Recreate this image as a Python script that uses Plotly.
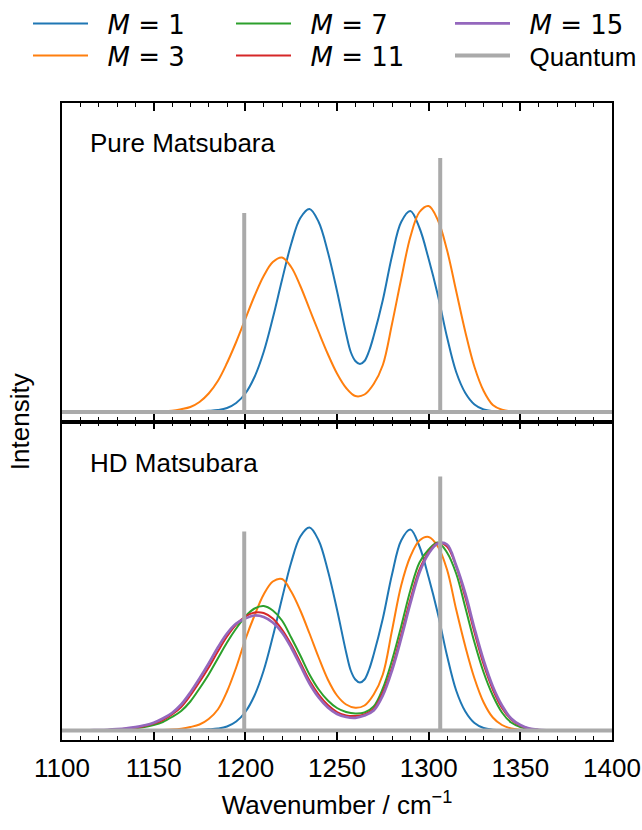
import plotly.graph_objects as go

# ---------------- data ----------------
WAVENUMBER = list(range(1100, 1405, 5))  # sample grid, cm^-1

# M = 1 is sampled a little more densely around its sharp valley
M1_X = (list(range(1100, 1255, 5))
        + [1255, 1257.5, 1260, 1262.5, 1265, 1267.5]
        + list(range(1270, 1405, 5)))
M1 = [0, 0, 0, 0, 0, 0, 0, 0, 0, 0,
      0, 0, 0.1, 0.2, 0.4, 0.7, 1.2, 2, 4, 9,
      18.5, 35, 60, 94, 132, 168, 194, 203, 190, 160,
      121,
      78, 60, 51, 48, 51, 61,
      76, 112, 156, 190, 201, 184,
      153, 117, 75, 40, 19, 7.5, 2.5, 0.8, 0.2, 0.1,
      0, 0, 0, 0, 0, 0, 0, 0, 0, 0,
      0]

M3_PURE = [0, 0, 0, 0, 0, 0, 0, 0, 0, 0.1,
           0.2, 0.5, 1.2, 2.8, 5, 10, 18.5, 31, 49, 70,
           93, 116, 136, 150, 154.5, 145, 126, 103, 80, 58,
           38.5, 24, 16, 17.5, 28, 47, 88, 133, 175, 200,
           206, 192, 162, 121, 80, 45, 21, 7, 2.2, 0.6,
           0.2, 0.1, 0, 0, 0, 0, 0, 0, 0, 0,
           0]

M3_HD = [0, 0, 0, 0, 0, 0, 0, 0, 0, 0.1,
         0.2, 0.4, 0.9, 1.8, 3.5, 6, 11.5, 21, 39, 63,
         91, 115, 136, 149, 151.5, 139, 120, 97, 73, 51,
         35, 26, 22.7, 25, 36, 56, 100, 145, 174, 190,
         193.5, 184, 161, 121, 84, 52, 28, 13, 5.5, 2,
         0.7, 0.2, 0, 0, 0, 0, 0, 0, 0, 0,
         0]

M7_HD = [0, 0, 0.1, 0.2, 0.3, 0.6, 1, 1.5, 2.2, 3.5,
         5.5, 8.5, 13.5, 19.5, 29, 42, 56, 72, 88, 102,
         114, 122, 124.5, 120, 110, 93, 75, 56, 41, 30,
         22.5, 18.5, 17, 18, 24, 42, 70, 104, 140, 168,
         181, 188, 178, 157, 123, 88, 58, 35, 18, 8,
         3.5, 1.2, 0.4, 0.1, 0, 0, 0, 0, 0, 0,
         0]

M11_HD = [0, 0.1, 0.1, 0.2, 0.35, 0.6, 1.1, 1.8, 2.8, 4.5,
          7, 10.5, 16, 23.5, 35, 48.5, 63, 79, 94, 106,
          114, 118, 117.5, 112, 101, 86, 68, 50, 36, 25.5,
          18.5, 15, 14.5, 16, 21.5, 38, 63, 96, 131, 161,
          178.5, 187.5, 184, 164, 133, 98, 66, 41, 22.5, 11,
          4.8, 1.8, 0.6, 0.2, 0, 0, 0, 0, 0, 0,
          0]

M15_HD = [0.05, 0.1, 0.15, 0.25, 0.45, 0.75, 1.3, 2.1, 3.3, 5.2,
          7.8, 12, 17.5, 26, 38, 52, 67, 83, 97, 107,
          112, 115, 113.5, 108, 98, 83, 65, 47, 33, 23,
          16.5, 13.5, 12.7, 15, 20, 35, 60, 92, 127, 158,
          177, 187, 186, 165, 137, 102, 70, 44, 25, 12,
          5.5, 2, 0.7, 0.2, 0, 0, 0, 0, 0, 0,
          0]

QUANTUM_POS = [1199.4, 1306.3]
QUANTUM_HEIGHT = [199, 254]

X_RANGE = [1100, 1400]
X_TICKS = [1100, 1150, 1200, 1250, 1300, 1350, 1400]
Y_RANGE = [-9.5, 309]

COLORS = {"M1": "#1f77b4", "M3": "#ff7f0e", "M7": "#2ca02c",
          "M11": "#d62728", "M15": "#9467bd", "Q": "#aaaaaa"}

FONT = "Liberation Sans, Arial, sans-serif"
FS = 26
GAP = "\u00a0\u00a0"


def mlabel(n):
    return GAP + '<span style="font-family:DejaVu Sans"><i>M</i> = %s</span>' % n


# quantum stick spectrum as a line (baseline + vertical sticks)
qx = [X_RANGE[0]]
qy = [0]
for p, h in zip(QUANTUM_POS, QUANTUM_HEIGHT):
    qx += [p, p, p]
    qy += [0, h, 0]
qx.append(X_RANGE[1])
qy.append(0)

fig = go.Figure()

LW = 2.0
SMOOTH = 1.0

# ---- top panel: Pure Matsubara ----
for xs, y, key in [(M1_X, M1, "M1"), (WAVENUMBER, M3_PURE, "M3")]:
    fig.add_trace(go.Scatter(x=xs, y=y, mode="lines", xaxis="x", yaxis="y",
                             line=dict(color=COLORS[key], width=LW, shape="spline", smoothing=SMOOTH),
                             showlegend=False, hoverinfo="skip"))
fig.add_trace(go.Scatter(x=qx, y=qy, mode="lines", xaxis="x", yaxis="y",
                         line=dict(color=COLORS["Q"], width=4), showlegend=False, hoverinfo="skip"))

# ---- bottom panel: HD Matsubara ----
series = [
    (M1_X, M1, "M1", mlabel(1), "legend", LW),
    (WAVENUMBER, M3_HD, "M3", mlabel(3), "legend2", LW),
    (WAVENUMBER, M7_HD, "M7", mlabel(7), "legend3", LW),
    (WAVENUMBER, M11_HD, "M11", mlabel(11), "legend4", LW),
    (WAVENUMBER, M15_HD, "M15", mlabel(15), "legend5", 2.7),
]
for xs, y, key, name, leg, w in series:
    fig.add_trace(go.Scatter(x=xs, y=y, mode="lines", xaxis="x2", yaxis="y2",
                             name=name, legend=leg,
                             line=dict(color=COLORS[key], width=w, shape="spline", smoothing=SMOOTH),
                             hoverinfo="skip"))
fig.add_trace(go.Scatter(x=qx, y=qy, mode="lines", xaxis="x2", yaxis="y2",
                         name=GAP + "Quantum", legend="legend6",
                         line=dict(color=COLORS["Q"], width=4), hoverinfo="skip"))

common_x = dict(range=X_RANGE, tickvals=X_TICKS, ticks="inside", ticklen=8, tickwidth=1.5,
                tickcolor="black", showline=True, linecolor="black", linewidth=1.6,
                mirror="allticks", showgrid=False, zeroline=False, automargin=False,
                minor=dict(ticks="inside", dtick=10, ticklen=4.5, tickwidth=1.2, tickcolor="black",
                           showgrid=False),
                tickfont=dict(family=FONT, size=FS, color="black"))
common_y = dict(range=Y_RANGE, showticklabels=False, ticks="", showline=True, linecolor="black",
                linewidth=1.6, mirror=True, showgrid=False, zeroline=False, automargin=False)

legend_common = dict(xref="container", yref="container", yanchor="top", xanchor="left",
                     orientation="v",
                     font=dict(family=FONT, size=FS, color="black"), itemwidth=55,
                     bgcolor="rgba(0,0,0,0)", tracegroupgap=0, itemclick=False)

COL_X = [28, 231, 450]
ROW_TOP = [0, 32]


def leg(ci, ri):
    return dict(x=COL_X[ci] / 642, y=1 - ROW_TOP[ri] / 830, **legend_common)


fig.update_layout(
    width=642, height=830,
    margin=dict(l=62, r=30, t=103, b=90, autoexpand=False),
    paper_bgcolor="white", plot_bgcolor="white",
    font=dict(family=FONT, size=FS, color="black"),
    xaxis=dict(domain=[0, 1], anchor="y", matches="x2", showticklabels=False, **common_x),
    yaxis=dict(domain=[0.5, 1], anchor="x", **common_y),
    xaxis2=dict(domain=[0, 1], anchor="y2", showticklabels=True, ticklabelstandoff=4,
                title=dict(text="Wavenumber / cm<sup>−1</sup>", font=dict(family=FONT, size=FS),
                           standoff=14),
                **common_x),
    yaxis2=dict(domain=[0, 0.5], anchor="x2", **common_y),
    legend=leg(0, 0), legend2=leg(0, 1),
    legend3=leg(1, 0), legend4=leg(1, 1),
    legend5=leg(2, 0), legend6=leg(2, 1),
    annotations=[
        dict(text="Pure Matsubara", xref="x domain", yref="y domain", x=0.047, y=0.874,
             xanchor="left", yanchor="middle", showarrow=False,
             font=dict(family=FONT, size=FS, color="black")),
        dict(text="HD Matsubara", xref="x2 domain", yref="y2 domain", x=0.047, y=0.87,
             xanchor="left", yanchor="middle", showarrow=False,
             font=dict(family=FONT, size=FS, color="black")),
        dict(text="Intensity", xref="paper", yref="paper", x=-0.077, y=0.5,
             xanchor="center", yanchor="middle", textangle=-90, showarrow=False,
             font=dict(family=FONT, size=FS, color="black")),
    ],
)

fig.write_html("out.html")
